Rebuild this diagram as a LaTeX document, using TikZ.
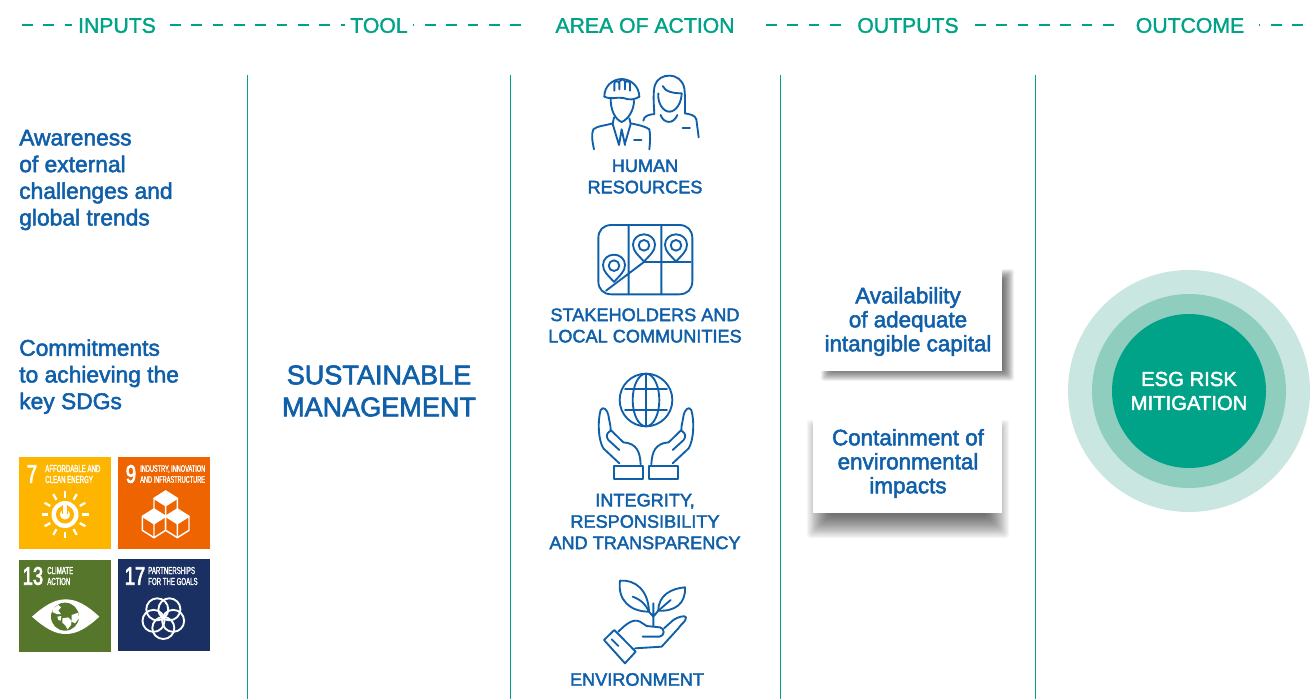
\documentclass[tikz,border=0pt]{standalone}
\usepackage{fontspec}
\setmainfont[FakeBold=2.2]{Liberation Sans}
\newfontfamily\headfont[FakeBold=1.6]{Liberation Sans}
\newfontfamily\narrowlab[FakeStretch=0.6,FakeBold=1.5]{Liberation Sans}
\newfontfamily\narrownum[FakeStretch=0.72,FakeBold=3]{Liberation Sans}
\usetikzlibrary{calc}
\definecolor{teal}{HTML}{00A388}
\definecolor{blu}{HTML}{0F5FA9}
\definecolor{ringa}{HTML}{C9E6E0}
\definecolor{ringb}{HTML}{8FCDBF}
\definecolor{sdgy}{HTML}{FDB500}
\definecolor{sdgo}{HTML}{ED6400}
\definecolor{sdgg}{HTML}{56772B}
\definecolor{sdgn}{HTML}{1A3062}
\tikzset{
 head/.style={text=teal,font=\headfont\fontsize{15.9}{18}\selectfont,inner sep=0pt},
 hdash/.style={teal,line width=1.4pt,dash pattern=on 8pt off 8pt},
 rule/.style={teal,line width=0.9pt},
 body/.style={text=blu,font=\fontsize{17.1}{20}\selectfont,align=left,inner sep=0pt,anchor=north west},
 act/.style={text=blu,font=\fontsize{13.6}{16}\selectfont,align=center,inner sep=0pt},
 outp/.style={text=blu,font=\fontsize{16.8}{18}\selectfont,align=center,inner sep=0pt},
 ico/.style={blu,line width=1.4pt,line cap=round,line join=round},
 wico/.style={white,line width=1.1pt,line join=miter},
 tile/.style={inner sep=0pt,minimum width=69pt,minimum height=69pt},
 num/.style={white,inner sep=0pt,font=\narrownum\fontsize{19}{19}\selectfont},
 sdg/.style={white,inner sep=0pt,align=left,anchor=west,font=\narrowlab\fontsize{7.6}{8.2}\selectfont},
}
\newcommand{\softshadow}[5]{% x1 y1 x2 y2 blur
 \foreach \s in {0,1,...,19}{
  \pgfmathsetmacro{\dd}{#5*(1-\s/10)}
  \fill[black,opacity=0.04,rounded corners=2pt] (#1-\dd,#2-\dd) rectangle (#3+\dd,#4+\dd);
 }}
\newcommand{\mappin}[2]{%
 \draw[ico] (#1,#2+49) .. controls (#1-18,#2+28) and (#1-33,#2+18) .. (#1-33,#2-2) .. controls (#1-33,#2-20) and (#1-18,#2-33) .. (#1,#2-33) .. controls (#1+18,#2-33) and (#1+33,#2-20) .. (#1+33,#2-2) .. controls (#1+33,#2+18) and (#1+18,#2+28) .. (#1,#2+49);
 \draw[ico] (#1,#2) circle (16);}
\begin{document}
\begin{tikzpicture}[x=0.75pt,y=-0.75pt]
\useasboundingbox (0,0) rectangle (1310,699);
% header
\node[head] (inputs) at (117,25.5) {INPUTS};
\node[head] (tool) at (379,25.5) {TOOL};
\node[head] (area) at (645,25.5) {AREA OF ACTION};
\node[head] (outputs) at (908,25.5) {OUTPUTS};
\node[head] (outcome) at (1190,25.5) {OUTCOME};
\coordinate (d1a) at (22,25); \coordinate (d1b) at (72,25);
\coordinate (d2a) at (170,25); \coordinate (d2b) at (345,25);
\coordinate (d3a) at (413,25); \coordinate (d3b) at (521,25);
\coordinate (d4a) at (766,25); \coordinate (d4b) at (851,25);
\coordinate (d5a) at (975,25); \coordinate (d5b) at (1115,25);
\coordinate (d6a) at (1259,25); \coordinate (d6b) at (1306,25);
\draw[hdash] (d1a) -- (d1b);
\draw[hdash] (d2a) -- (d2b);
\draw[hdash,dash phase=7pt] (d3a) -- (d3b);
\draw[hdash] (d4a) -- (d4b);
\draw[hdash] (d5a) -- (d5b);
\draw[hdash,dash phase=7pt] (d6a) -- (d6b);
% rules
\foreach \n/\x in {a/247.5,b/510.5,c/780.5,d/1035.5}{
 \coordinate (r\n t) at (\x,75); \coordinate (r\n b) at (\x,699);
 \draw[rule] (r\n t) -- (r\n b);
}
% left
\node[body] (aware) at (19,129.5) {Awareness\\of external\\challenges and\\global trends};
\node[body] (commit) at (19,339) {Commitments\\to achieving the\\key SDGs};
\node[text=blu,inner sep=0pt,align=center,font=\fontsize{20.3}{24}\selectfont] (sm) at (379,391) {SUSTAINABLE\\MANAGEMENT};
% SDG tiles
\node[tile,fill=sdgy] (t7) at (65,502.5) {};
\node[tile,fill=sdgo] (t9) at (164,503) {};
\node[tile,fill=sdgg] (t13) at (65,605.5) {};
\node[tile,fill=sdgn] (t17) at (164,605) {};
\node[num] (n7) at (32,474) {7};
\node[sdg] (l7) at (45,474) {AFFORDABLE AND\\CLEAN ENERGY};
\node[num] (n9) at (131,474) {9};
\node[sdg,font=\narrowlab\fontsize{7}{8.2}\selectfont] (l9) at (140,474) {INDUSTRY, INNOVATION\\AND INFRASTRUCTURE};
\node[num] (n13) at (33,576) {13};
\node[sdg] (l13) at (47,576) {CLIMATE\\ACTION};
\node[num] (n17) at (135,576) {17};
\node[sdg] (l17) at (148,576) {PARTNERSHIPS\\FOR THE GOALS};
% sun
\foreach \a in {0,30,...,330}{
 \draw[white,line width=1.7pt] ($(65,514.5)+(\a:17)$) -- ($(65,514.5)+(\a:23.5)$);
}
\fill[white] (65,514.5) circle (13.5);
\draw[sdgy,line width=3pt] (65,514.5) circle (7);
\fill[white] (63,505) rectangle (67,514);
\draw[sdgy,line width=1pt] (62.5,505) -- (62.5,514) (67.5,505) -- (67.5,514);
% cubes
\begin{scope}[shift={(0,440)},x=0.25pt,y=-0.25pt]
\foreach \dx/\dy in {0/0,-35/54,35/54}{
 \begin{scope}[shift={(497+\dx,153+\dy)}]
 \draw[wico,fill=sdgo] (0,0) -- (35,22) -- (35,64) -- (0,86) -- (-35,64) -- (-35,22) -- cycle;
 \fill[white] (0,0) -- (35,22) -- (0,44) -- (-35,22) -- cycle;
 \draw[wico] (-35,22) -- (0,44) -- (35,22) (0,44) -- (0,86);
 \end{scope}
}
% eye
\fill[white] (96,530) .. controls (135,495) and (165,478) .. (197,478) .. controls (230,478) and (260,495) .. (298,530) .. controls (260,565) and (230,582) .. (197,582) .. controls (165,582) and (135,565) .. (96,530) -- cycle;
\fill[sdgg] (195,530) circle (42);
\fill[white] (160,505) -- (175,495) -- (183,502) -- (175,512) -- (183,522) -- (170,522) -- (157,516) -- cycle;
\fill[white] (187,535) -- (205,532) -- (215,542) -- (213,555) -- (203,568) -- (195,555) -- (187,548) -- cycle;
\fill[white] (215,525) -- (235,518) -- (237,535) -- (225,550) -- (215,545) -- cycle;
\fill[white] (172,530) -- (184,528) -- (182,542) -- (175,540) -- cycle;
% rings
\foreach \a in {90,162,234,306,18}{
 \draw[white,line width=1.4pt] ($(490,533)+(\a:31)$) circle (33);
}
\end{scope}
% human resources icon
\begin{scope}[shift={(570,60)},x=0.25pt,y=-0.25pt]
\draw[ico] (103,110) .. controls (103,80) and (125,58) .. (155,57) .. controls (185,58) and (207,80) .. (208,110);
\draw[ico] (103,110) .. controls (125,120) and (140,110) .. (160,114) .. controls (180,122) and (195,118) .. (208,110);
\draw[ico] (133,92) -- (133,70) .. controls (133,62) and (148,62) .. (148,70) -- (148,88) (148,66) .. controls (152,56) and (165,56) .. (165,66) -- (165,88) (165,66) .. controls (170,62) and (180,62) .. (180,72) -- (180,92);
\draw[ico] (122,118) .. controls (122,150) and (135,178) .. (155,186) .. controls (175,178) and (192,150) .. (192,122);
\draw[ico] (132,172) -- (128,192) -- (147,255) -- (155,208) -- (165,255) (178,175) -- (182,192) -- (165,250);
\draw[ico] (72,268) .. controls (66,240) and (64,222) .. (70,208) .. controls (80,198) and (110,196) .. (128,190);
\draw[ico] (182,190) .. controls (200,194) and (225,198) .. (238,208) .. controls (242,225) and (240,250) .. (238,268);
\draw[ico] (192,241) -- (214,241);
\draw[ico] (253,160) .. controls (250,120) and (250,90) .. (255,75) .. controls (262,55) and (280,47) .. (297,47) .. controls (320,47) and (338,60) .. (343,85) .. controls (346,110) and (345,135) .. (345,160);
\draw[ico] (278,78) .. controls (285,95) and (310,100) .. (335,100) .. controls (335,125) and (320,155) .. (298,155) .. controls (280,155) and (262,130) .. (265,100);
\draw[ico] (220,182) .. controls (222,168) and (235,164) .. (253,162);
\draw[ico] (272,165) .. controls (280,190) and (310,195) .. (322,165);
\draw[ico] (345,160) .. controls (360,163) and (375,165) .. (379,178) -- (386,232);
\draw[ico] (338,204) -- (360,204);
% map icon
\draw[ico] (125,495) -- (327,495) .. controls (352,495) and (367,510) .. (367,535) -- (367,663) .. controls (367,688) and (352,703) .. (327,703) -- (125,703) .. controls (100,703) and (85,688) .. (85,663) -- (85,535) .. controls (85,510) and (100,495) .. (125,495) -- cycle;
\draw[ico] (176,495) -- (176,703) (274,495) -- (274,703) (222,606) -- (362,606) (108,692) -- (222,606);
\mappin{132}{617}
\mappin{222}{556}
\mappin{318}{556}
\end{scope}
% globe-hands icon
\begin{scope}[shift={(570,365)},x=0.25pt,y=-0.25pt]
\draw[ico] (228,105) circle (79);
\draw[ico] (228,105) ellipse (40 and 79);
\draw[ico] (228,26) -- (228,184) (165,72) -- (291,72) (165,136) -- (291,136);
\foreach \sh/\sc in {0/1,456/-1}{
 \begin{scope}[shift={(\sh,0)},xscale=\sc]
 \draw[ico] (148,295) -- (100,250) .. controls (85,225) and (82,170) .. (92,135) .. controls (100,122) and (112,135) .. (115,150) .. controls (118,170) and (122,180) .. (122,195) -- (160,232) .. controls (200,235) and (210,260) .. (212,298);
 \draw[ico] (148,255) -- (115,225) .. controls (108,215) and (108,205) .. (122,197);
 \draw[ico] (132,303) rectangle (218,343);
 \end{scope}
}
\end{scope}
% plant icon
\begin{scope}[shift={(580,570)},x=0.25pt,y=-0.25pt]
\draw[ico] (120,32) .. controls (165,28) and (205,60) .. (207,125) .. controls (150,125) and (112,90) .. (120,32) -- cycle;
\draw[ico] (158,80) .. controls (185,90) and (198,105) .. (207,125);
\draw[ico] (315,52) .. controls (275,55) and (235,75) .. (235,122) .. controls (285,125) and (318,100) .. (315,52) -- cycle;
\draw[ico] (272,90) -- (235,122);
\draw[ico] (220,100) -- (220,168) (207,125) -- (220,140) -- (235,122);
\draw[ico] (72,210) -- (103,180) -- (167,245) -- (135,280) -- cycle;
\draw[ico] (95,208) -- (115,228);
\draw[ico] (115,185) .. controls (140,160) and (160,145) .. (180,155) -- (200,168) -- (240,172) .. controls (255,175) and (255,198) .. (238,200) -- (188,200);
\draw[ico] (252,175) -- (280,150) .. controls (295,140) and (315,135) .. (318,142) .. controls (318,155) and (305,160) .. (295,175) -- (245,230) -- (165,235);
\end{scope}
% area labels
\node[act] (hr) at (645,176.5) {HUMAN\\RESOURCES};
\node[act] (st) at (645,325.5) {STAKEHOLDERS AND\\LOCAL COMMUNITIES};
\node[act] (in) at (645,521.5) {INTEGRITY,\\RESPONSIBILITY\\AND TRANSPARENCY};
\node[act] (en) at (637,679.5) {ENVIRONMENT};
% output boxes
\softshadow{827}{275}{1008}{375}{6}
\softshadow{819}{432}{997}{526}{12}
\node[fill=white,inner sep=0pt,minimum width=138pt,minimum height=77.25pt] (b1) at (910,319.5) {};
\node[fill=white,inner sep=0pt,minimum width=141.75pt,minimum height=71.25pt] (b2) at (907.5,465.5) {};
\node[outp] (o1) at (908,321.5) {Availability\\of adequate\\intangible capital};
\node[outp] (o2) at (908,463.5) {Containment of\\environmental\\impacts};
% outcome
\fill[ringa] (1189,391) circle (121);
\fill[ringb] (1189,391) circle (97);
\node[circle,fill=teal,minimum size=115.5pt,inner sep=0pt,text=white,align=center,font=\fontsize{15.2}{18}\selectfont] (esg) at (1189,391) {ESG RISK\\MITIGATION};
\end{tikzpicture}
\end{document}
